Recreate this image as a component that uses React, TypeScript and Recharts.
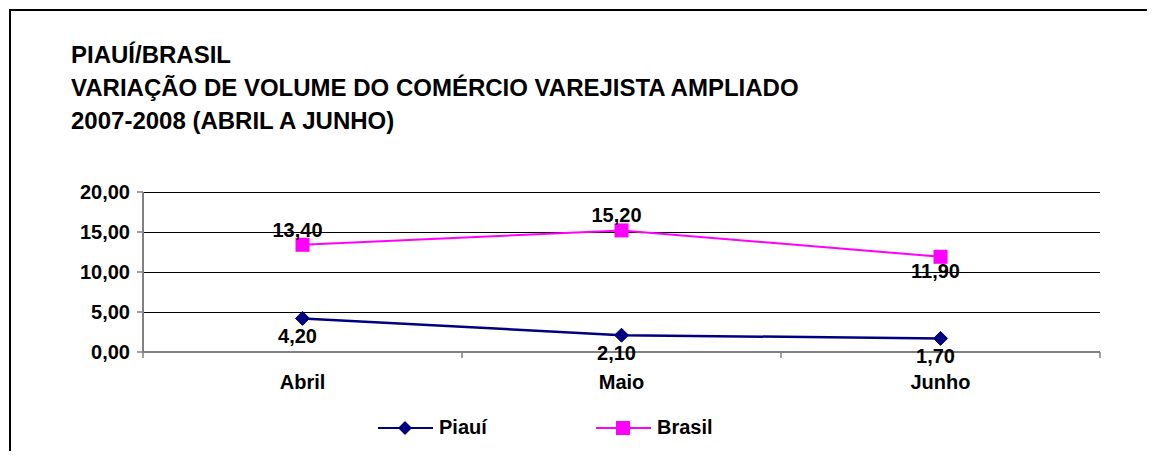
import React from 'react';
import { LineChart, Line, XAxis, YAxis, CartesianGrid, Legend, LabelList } from 'recharts';

const categories = ['Abril', 'Maio', 'Junho'];
const piauiValues = [4.2, 2.1, 1.7];
const brasilValues = [13.4, 15.2, 11.9];
const yTicks = [0, 5, 10, 15, 20];
const titleLines = [
  'PIAUÍ/BRASIL',
  'VARIAÇÃO DE VOLUME DO COMÉRCIO VAREJISTA AMPLIADO',
  '2007-2008 (ABRIL A JUNHO)',
];
const seriesNames = ['Piauí', 'Brasil'];
const brasilLabelSides = ['top', 'top', 'bottom'];

const data = categories.map((c, i) => ({ name: c, piaui: piauiValues[i], brasil: brasilValues[i] }));

const FONT = '"Liberation Sans", Arial, Helvetica, sans-serif';
const NAVY = '#000080';
const MAGENTA = '#FF00FF';
const AXIS_GRAY = '#808080';

const fmt = (v: number) => v.toFixed(2).replace('.', ',');

const Diamond = (props: any) => {
  const { cx, cy } = props;
  if (cx == null || cy == null) return null;
  return <polygon points={`${cx},${cy - 7} ${cx + 7},${cy} ${cx},${cy + 7} ${cx - 7},${cy}`} fill={NAVY} stroke={NAVY} />;
};
const Square = (props: any) => {
  const { cx, cy } = props;
  if (cx == null || cy == null) return null;
  return <rect x={cx - 7} y={cy - 7} width={14} height={14} fill={MAGENTA} />;
};

const PiauiLabel = (props: any) => {
  const { x, y, value } = props;
  return (
    <text x={x - 5} y={y + 18} textAnchor="middle" dominantBaseline="central" fontFamily={FONT} fontWeight="bold" fontSize={20} fill="#000">
      {fmt(value)}
    </text>
  );
};
const BrasilLabel = (props: any) => {
  const { x, y, value, index } = props;
  const below = brasilLabelSides[index] === 'bottom';
  return (
    <text x={x - 5} y={below ? y + 14 : y - 15} textAnchor="middle" dominantBaseline="central" fontFamily={FONT} fontWeight="bold" fontSize={20} fill="#000">
      {fmt(value)}
    </text>
  );
};

const CategoryTick = (props: any) => {
  const { x, y, payload, index } = props;
  const half = payload && payload.offset ? payload.offset : 159.5;
  const last = index === categories.length - 1;
  return (
    <g>
      <line x1={x - half} y1={y} x2={x - half} y2={y + 6} stroke={AXIS_GRAY} strokeWidth={1.5} />
      {last && <line x1={x + half} y1={y} x2={x + half} y2={y + 6} stroke={AXIS_GRAY} strokeWidth={1.5} />}
      <text x={x} y={y + 23} dy="0.71em" textAnchor="middle" fontFamily={FONT} fontWeight="bold" fontSize={20} fill="#000">
        {payload.value}
      </text>
    </g>
  );
};

const LegendContent = () => (
  <div style={{ display: 'flex', alignItems: 'center', fontFamily: FONT, fontWeight: 'bold', fontSize: 20, color: '#000' }}>
    <div style={{ width: 218, display: 'flex', alignItems: 'center' }}>
      <svg width={56} height={16} style={{ display: 'block' }}>
        <line x1={0} y1={8} x2={55} y2={8} stroke={NAVY} strokeWidth={2} />
        <polygon points="27,1 34,8 27,15 20,8" fill={NAVY} />
      </svg>
      <span style={{ marginLeft: 5 }}>{seriesNames[0]}</span>
    </div>
    <div style={{ display: 'flex', alignItems: 'center' }}>
      <svg width={56} height={16} style={{ display: 'block' }}>
        <line x1={0} y1={8} x2={55} y2={8} stroke={MAGENTA} strokeWidth={2} />
        <rect x={20} y={1} width={14} height={14} fill={MAGENTA} />
      </svg>
      <span style={{ marginLeft: 5 }}>{seriesNames[1]}</span>
    </div>
  </div>
);

export default function App() {
  return (
    <div
      style={{
        position: 'relative',
        left: 1,
        top: 1,
        width: 1146,
        height: 443,
        boxSizing: 'border-box',
        borderTop: '2px solid #000',
        borderLeft: '2px solid #000',
        background: '#fff',
      }}
    >
      <div
        style={{
          position: 'absolute',
          left: 60,
          top: 27,
          fontFamily: FONT,
          fontWeight: 'bold',
          fontSize: 24,
          lineHeight: '33px',
          color: '#000',
          whiteSpace: 'nowrap',
        }}
      >
        {titleLines.map((t) => (
          <div key={t}>{t}</div>
        ))}
      </div>
      <LineChart width={1144} height={441} data={data} margin={{ top: 181, right: 55, bottom: 70, left: 52 }}>
        <CartesianGrid vertical={false} stroke="#000" strokeWidth={1} shapeRendering="crispEdges" />
        <XAxis
          dataKey="name"
          scale="band"
          height={30}
          tickSize={0}
          tickMargin={0}
          tickLine={false}
          axisLine={{ stroke: AXIS_GRAY, strokeWidth: 2 }}
          tick={<CategoryTick />}
          interval={0}
        />
        <YAxis
          width={80}
          domain={[0, 20]}
          ticks={yTicks}
          tickFormatter={fmt}
          tickSize={6}
          tickMargin={7}
          tickLine={{ stroke: AXIS_GRAY, strokeWidth: 1.5 }}
          axisLine={{ stroke: AXIS_GRAY, strokeWidth: 2 }}
          tick={{ fontFamily: FONT, fontWeight: 'bold', fontSize: 20, fill: '#000' }}
        />
        <Legend
          layout="vertical"
          align="center"
          verticalAlign="middle"
          content={<LegendContent />}
          wrapperStyle={{ position: 'absolute', left: 367, top: 405, width: 500, height: 24 }}
        />
        <Line
          name={seriesNames[0]}
          dataKey="piaui"
          stroke={NAVY}
          strokeWidth={2.5}
          dot={<Diamond />}
          activeDot={false}
          isAnimationActive={false}
        >
          <LabelList dataKey="piaui" content={<PiauiLabel />} />
        </Line>
        <Line
          name={seriesNames[1]}
          dataKey="brasil"
          stroke={MAGENTA}
          strokeWidth={2}
          dot={<Square />}
          activeDot={false}
          isAnimationActive={false}
        >
          <LabelList dataKey="brasil" content={<BrasilLabel />} />
        </Line>
      </LineChart>
    </div>
  );
}
